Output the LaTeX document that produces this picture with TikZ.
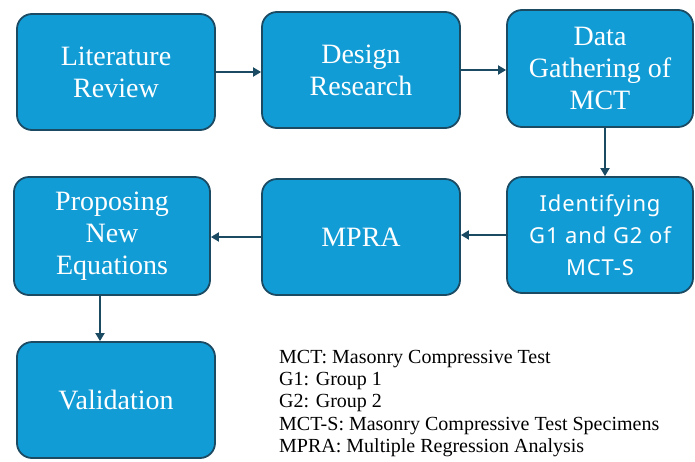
\documentclass[tikz,border=0pt]{standalone}
\usepackage{fontspec}
\setmainfont{Liberation Serif}
\newfontfamily\plexlike[LetterSpace=4]{Noto Sans}
\usetikzlibrary{arrows.meta}
\definecolor{boxfill}{HTML}{129CD5}
\definecolor{boxline}{HTML}{1B4A63}
\tikzset{
  stepbox/.style={draw=boxline, line width=1.8pt, fill=boxfill, rounded corners=15pt,
    text=white, align=center, font=\fontsize{28}{32}\selectfont, inner sep=0pt},
  arr/.style={draw=boxline, line width=1.8pt, -{Triangle[length=8pt,width=9pt]}},
}
\begin{document}
\begin{tikzpicture}[x=1pt,y=-1pt]
\useasboundingbox (0,0) rectangle (695,461);
\node[stepbox, minimum width=198pt, minimum height=116pt] (lit) at (116,72) {Literature\\Review};
\node[stepbox, minimum width=198pt, minimum height=116pt] (des) at (361,70) {Design\\Research};
\node[stepbox, minimum width=186pt, minimum height=117pt] (dat) at (600,68.5) {Data\\Gathering of\\MCT};
\node[stepbox, minimum width=186pt, minimum height=116pt, font=\plexlike\fontsize{22}{32}\selectfont] (idn) at (600,235) {Identifying\\G1 and G2 of\\MCT-S};
\node[stepbox, minimum width=198pt, minimum height=116pt] (mpr) at (361,237) {MPRA};
\node[stepbox, minimum width=196pt, minimum height=118pt] (pro) at (112,236) {Proposing\\New\\Equations};
\node[stepbox, minimum width=198pt, minimum height=116pt] (val) at (116,400) {Validation};
\draw[arr] (lit.east) -- (lit.east -| des.west);
\draw[arr] (des.east) -- (des.east -| dat.west);
\draw[arr] ([xshift=5pt]dat.south) -- ([xshift=5pt]dat.south |- idn.north);
\draw[arr] (idn.west) -- (idn.west -| mpr.east);
\draw[arr] (mpr.west) -- (mpr.west -| pro.east);
\draw[arr] ([xshift=-12pt]pro.south) -- ([xshift=-12pt]pro.south |- val.north);
\node[anchor=north west, align=left, inner sep=0pt, font=\fontsize{20}{22.2}\selectfont] (leg) at (279,350)
 {MCT: Masonry Compressive Test\\G1: Group 1\\G2: Group 2\\MCT-S: Masonry Compressive Test Specimens\\MPRA: Multiple Regression Analysis};
\end{tikzpicture}
\end{document}
